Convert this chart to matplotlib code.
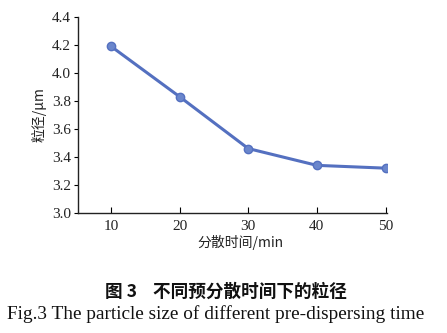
import matplotlib
matplotlib.use("Agg")
import matplotlib.pyplot as plt

# ---- data ----
time_min = [10, 20, 30, 40, 50]
size_um = [4.19, 3.83, 3.46, 3.34, 3.32]
y_ticks = [3.0, 3.2, 3.4, 3.6, 3.8, 4.0, 4.2, 4.4]
x_ticks = [10, 20, 30, 40, 50]

serif = ["Liberation Serif", "Noto Sans CJK SC"]
cjk = ["Noto Sans CJK SC", "Liberation Serif"]

fig = plt.figure(figsize=(4.47, 3.33), dpi=100)
ax = fig.add_axes([0.1745, 0.3604, 0.691, 0.589])

ax.plot(time_min, size_um, color="#5470c0", linewidth=2.2,
        marker="o", markersize=6, markerfacecolor="#6a86cc", markeredgecolor="#5470c0")

ax.set_xlim(5.2, 50.2)
ax.set_ylim(3.0, 4.4)
ax.set_xticks(x_ticks)
ax.set_yticks(y_ticks)
ax.set_yticklabels([f"{v:.1f}" for v in y_ticks])
ax.tick_params(axis="x", direction="in", length=4, width=0.8, pad=5)
ax.tick_params(axis="y", direction="out", length=3, width=0.8, pad=2)
for lab in ax.get_xticklabels() + ax.get_yticklabels():
    lab.set_family(serif)
    lab.set_fontsize(11)
    lab.set_color("#222222")

for s in ["top", "right"]:
    ax.spines[s].set_visible(False)
for s in ["left", "bottom"]:
    ax.spines[s].set_linewidth(1.0)
    ax.spines[s].set_color("#222222")

ax.set_ylabel("粒径/μm", family=cjk, fontsize=10, labelpad=4, color="#222222")
ax.set_xlabel("分散时间/min", family=cjk, fontsize=10, color="#222222")
ax.xaxis.set_label_coords(0.527, -0.11)

fig.text(0.505, 0.123, "图 3    不同预分散时间下的粒径", family=cjk, fontsize=12.7,
         fontweight="bold", ha="center", va="center", color="#111111")
fig.text(0.483, 0.058, "Fig.3 The particle size of different pre-dispersing time",
         family=serif, fontsize=13.9, ha="center", va="center", color="#111111")

fig.savefig("out.png", dpi=100)
